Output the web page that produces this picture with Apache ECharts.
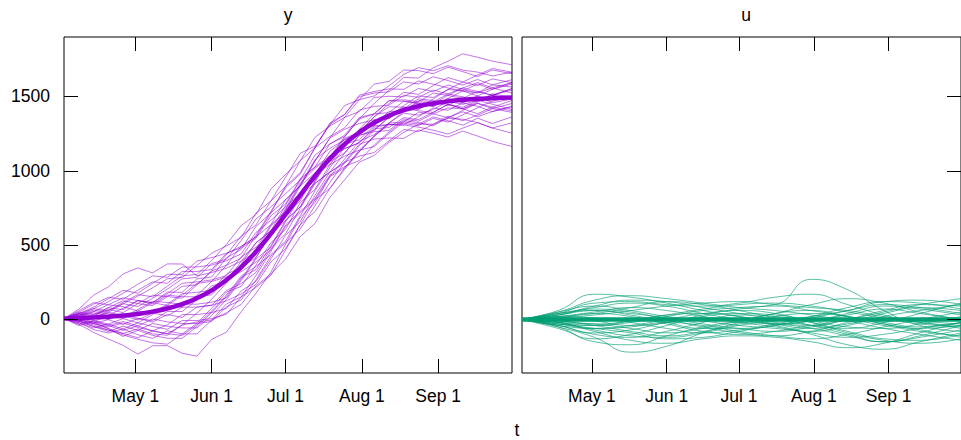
<!DOCTYPE html>
<html>
<head>
<meta charset="utf-8">
<script src="https://cdn.jsdelivr.net/npm/echarts@6/dist/echarts.min.js"></script>
<style>
html,body{margin:0;padding:0;background:#fff;}
#chart{width:961px;height:440px;}
</style>
</head>
<body>
<div id="chart"></div>
<script>
// ---------- data ----------
const yDates = ['2021-04-02','2021-04-08','2021-04-14','2021-04-20','2021-04-26','2021-05-02','2021-05-08','2021-05-14','2021-05-20','2021-05-26','2021-06-01','2021-06-07','2021-06-13','2021-06-19','2021-06-25','2021-07-01','2021-07-07','2021-07-13','2021-07-19','2021-07-25','2021-07-31','2021-08-06','2021-08-12','2021-08-18','2021-08-24','2021-08-30','2021-09-05','2021-09-11','2021-09-17','2021-09-23','2021-10-01'];
const uDates = ['2021-04-02','2021-04-17','2021-05-02','2021-05-17','2021-06-01','2021-06-16','2021-07-01','2021-07-16','2021-07-31','2021-08-15','2021-08-30','2021-09-14','2021-10-01'];
const xRange = ['2021-04-02','2021-10-01'];
const xTickDates = ['2021-05-01','2021-06-01','2021-07-01','2021-08-01','2021-09-01'];
const xTickLabels = ['May 1','Jun 1','Jul 1','Aug 1','Sep 1'];
const yTicks = [0,500,1000,1500];
const yRange = [-360,1900];
const panelTitles = ['y','u'];
const xTitle = 't';

const yMean = [6,9,13,19,26,37,53,74,103,143,196,265,352,456,576,706,838,966,1081,1179,1259,1323,1371,1408,1434,1453,1467,1477,1484,1488,1493];
const yPaths = [
[6,69,163,219,306,347,313,374,373,293,316,345,392,516,596,706,798,976,1131,1209,1259,1363,1431,1428,1414,1483,1547,1537,1524,1578,1563],
[6,-31,-87,-131,-174,-233,-177,-176,-227,-247,-134,-85,52,176,316,506,688,786,961,1079,1199,1243,1321,1388,1374,1413,1467,1447,1474,1508,1483],
[6,29,63,49,106,157,213,274,283,363,446,495,552,716,796,956,1118,1166,1311,1439,1479,1503,1571,1648,1694,1673,1707,1677,1664,1638,1663],
[6,-11,-47,-71,-94,-63,-97,-106,-37,-17,-4,45,102,226,306,406,558,646,821,939,1059,1103,1191,1258,1314,1313,1353,1347,1324,1288,1253],
[6,39,23,79,66,127,113,184,183,273,286,415,472,626,716,896,1068,1156,1321,1379,1509,1533,1551,1548,1604,1583,1557,1537,1504,1458,1483],
[6,-1,33,-1,36,7,-7,54,53,133,226,255,392,456,626,726,808,976,1041,1179,1209,1303,1401,1398,1474,1463,1437,1497,1464,1518,1493],
[6,-21,-67,-91,-64,-103,-127,-76,-97,-27,76,185,222,366,516,606,788,876,1041,1099,1139,1233,1311,1308,1364,1423,1407,1457,1434,1398,1433],
[6,49,103,149,136,197,253,244,323,323,336,445,482,546,696,776,948,1026,1181,1229,1349,1453,1541,1628,1624,1693,1737,1787,1764,1738,1713],
[6,19,-7,-41,-74,-43,-77,-36,33,33,46,75,192,256,406,566,658,836,991,1059,1179,1213,1221,1218,1274,1253,1227,1267,1234,1198,1163],
[6,-11,23,69,46,107,163,154,143,233,326,365,412,566,726,886,978,1156,1231,1289,1409,1433,1441,1508,1494,1543,1517,1557,1594,1558,1593],
[6,-41,-17,-61,-114,-73,-107,-126,-127,-47,46,155,282,336,496,666,758,936,1091,1149,1189,1293,1311,1318,1304,1353,1327,1377,1424,1468,1503],
[6,29,73,59,116,167,153,224,293,303,396,505,632,706,876,976,1068,1226,1301,1359,1399,1493,1501,1498,1554,1533,1577,1547,1524,1558,1523],
[6,-1,-27,-1,-34,7,-17,34,13,83,96,195,242,316,476,576,748,916,991,1119,1239,1273,1361,1428,1414,1463,1517,1497,1474,1508,1553],
[6,39,83,139,196,177,243,304,303,393,416,445,492,556,716,806,898,1066,1221,1359,1479,1583,1601,1678,1674,1653,1697,1667,1634,1678,1653],
[6,-21,-57,-31,6,-23,33,94,83,83,96,125,172,236,386,476,638,806,961,1019,1129,1233,1321,1328,1394,1383,1423,1417,1384,1428,1403],
[6,19,53,99,86,57,113,174,243,253,266,295,422,486,566,736,908,1076,1151,1209,1249,1343,1351,1418,1404,1393,1447,1427,1474,1448,1413],
[6,-11,-37,-71,-104,-133,-157,-166,-97,-97,-4,105,152,296,456,626,718,806,881,1009,1129,1233,1321,1398,1464,1453,1507,1487,1534,1508,1553],
[6,49,33,79,126,107,93,154,223,233,326,435,562,636,796,896,988,1156,1311,1379,1499,1523,1531,1598,1584,1633,1607,1577,1614,1578,1613],
[6,-1,-17,-41,-14,-43,3,-16,-27,-27,-14,85,132,266,426,516,608,766,921,1059,1099,1123,1201,1278,1264,1313,1367,1337,1374,1418,1393],
[6,29,3,49,26,-3,43,104,173,183,196,305,352,416,576,746,918,1016,1091,1229,1349,1383,1471,1478,1464,1523,1507,1557,1534,1508,1543],
[6,39,73,119,176,237,293,284,353,353,366,395,442,586,666,756,848,936,1091,1149,1189,1283,1291,1358,1344,1393,1447,1417,1454,1418,1453],
[6,-31,-7,-31,-64,-23,-47,-66,-7,-7,6,35,152,216,296,466,638,726,881,1019,1139,1163,1251,1328,1314,1363,1337,1307,1354,1318,1363],
[6,19,43,29,76,127,113,94,163,243,256,365,492,556,636,726,898,1066,1221,1279,1319,1343,1351,1418,1484,1473,1447,1417,1464,1508,1483],
[6,-11,-47,-81,-44,-73,-27,-46,-57,-57,26,135,262,406,486,656,828,916,991,1049,1169,1273,1361,1438,1504,1493,1547,1597,1574,1618,1593],
[6,9,-17,29,6,57,43,24,83,163,256,285,332,476,636,806,898,986,1061,1119,1239,1263,1271,1348,1334,1383,1357,1397,1364,1398,1433],
[6,59,113,99,146,127,103,164,153,153,166,275,322,386,466,636,728,816,971,1029,1069,1173,1261,1338,1324,1303,1357,1407,1454,1428,1473],
[6,-11,-27,-61,-94,-123,-77,-96,-37,43,136,245,372,516,596,766,938,1106,1181,1239,1359,1383,1391,1468,1454,1433,1487,1537,1584,1548,1583],
[6,29,53,39,16,67,123,114,103,103,116,145,272,416,576,666,758,926,1081,1219,1259,1363,1451,1528,1514,1573,1627,1597,1644,1688,1663],
[6,-1,-27,-51,-24,-53,-77,-96,-107,-37,56,165,292,356,436,526,698,866,1021,1159,1279,1303,1311,1308,1294,1273,1247,1287,1324,1288,1323],
[6,39,9,59,106,87,143,204,273,283,376,405,532,676,756,846,938,1026,1101,1159,1279,1383,1471,1468,1454,1433,1487,1457,1504,1548,1593]
];

const uMean = [0,0,0,0,0,0,0,0,0,0,0,0,0];
const uPaths = [
[0,60,170,150,110,60,20,-30,-60,-20,40,80,60],
[0,-50,-120,-220,-180,-90,-20,40,60,20,-30,-60,-40],
[0,30,60,40,10,-30,-60,-80,-50,0,60,100,90],
[0,-30,-60,-90,-130,-120,-80,-40,-10,30,70,40,0],
[0,40,110,120,100,90,110,150,170,100,30,-20,-40],
[0,-20,-40,-20,20,60,80,100,270,200,60,-40,-80],
[0,20,40,80,120,100,60,10,-40,-100,-150,-110,-40],
[0,-40,-100,-120,-80,-20,30,20,-20,-80,-130,-140,-100],
[0,50,90,60,20,-10,-40,-60,-80,-40,20,60,100],
[0,-20,-80,-140,-160,-130,-110,-120,-150,-190,-160,-90,-20],
[0,10,-10,-40,-20,30,70,90,60,20,-20,-50,-20],
[0,-60,-130,-100,-40,20,40,30,-10,-50,-60,-30,20],
[0,30,90,130,120,80,40,0,-40,-60,-20,40,110],
[0,-10,-40,-80,-110,-80,-30,20,40,20,-30,-70,-120],
[0,20,10,-20,-60,-90,-70,-40,10,60,120,130,100],
[0,-30,-60,-40,0,40,60,40,-20,-90,-140,-160,-130],
[0,40,80,110,90,40,0,-30,-10,40,90,70,30],
[0,-40,-60,-50,-20,-40,-80,-110,-130,-100,-50,0,50],
[0,10,30,60,90,110,120,100,80,60,20,-10,-30],
[0,-20,-70,-110,-120,-90,-40,-10,20,60,100,80,40],
[0,30,70,50,0,-50,-90,-110,-80,-30,0,-20,-60],
[0,-10,-30,-10,30,70,100,110,90,50,10,-30,-50],
[0,50,130,160,140,110,80,60,30,-10,-60,-100,-140],
[0,-50,-150,-170,-110,-50,-20,-30,-60,-110,-150,-120,-70],
[0,20,50,80,60,20,-20,-50,-90,-120,-100,-60,-20],
[0,-30,-40,-10,30,40,20,-20,-40,0,50,100,140],
[0,40,60,30,-20,-60,-60,-30,20,80,120,110,70],
[0,-20,-30,-60,-90,-60,-10,40,100,140,110,50,0],
[0,10,40,20,-30,-80,-100,-80,-40,-10,-40,-80,-110],
[0,-40,-90,-70,-20,10,0,-40,-100,-170,-200,-150,-90]
];

// ---------- helpers ----------
function ts(s){ const p = s.split('-').map(Number); return Date.UTC(p[0], p[1]-1, p[2]); }
const FONT = 'Liberation Sans, Arial, Helvetica, sans-serif';
const FS = 17.5;
const tickTs = xTickDates.map(ts);
const xMin = ts(xRange[0]), xMax = ts(xRange[1]);

function pairs(dates, vals){ return vals.map((v,i)=>[ts(dates[i]), v]); }

function xAxisDef(grid, pos, labels){
  return {
    type:'value', gridIndex:grid, position:pos, min:xMin, max:xMax, z:5, scale:true,
    axisLine:{show:false, onZero:false},
    axisTick:{show:true, inside:true, length:14, customValues:tickTs, lineStyle:{color:'#000', width:1}},
    axisLabel:{show:labels, customValues:tickTs, margin:14, color:'#000', fontSize:FS, fontFamily:FONT,
      formatter:function(v){ const i = tickTs.indexOf(v); return i>=0 ? xTickLabels[i] : ''; }},
    splitLine:{show:false}, minorTick:{show:false}
  };
}
function yAxisDef(grid, pos, labels){
  return {
    type:'value', gridIndex:grid, position:pos, min:yRange[0], max:yRange[1], z:5,
    axisLine:{show:false, onZero:false},
    axisTick:{show:true, inside:true, length:14, customValues:yTicks, lineStyle:{color:'#000', width:1}},
    axisLabel:{show:labels, customValues:yTicks, margin:14, color:'#000', fontSize:FS, fontFamily:FONT,
      formatter:function(v){ return String(v); }},
    splitLine:{show:false}
  };
}

const series = [];
yPaths.forEach(p => series.push({type:'line', xAxisIndex:0, yAxisIndex:0, data:pairs(yDates,p), symbol:'none', silent:true,
  lineStyle:{color:'#9400d3', width:1, opacity:0.55}, z:2}));
series.push({type:'line', xAxisIndex:0, yAxisIndex:0, data:pairs(yDates,yMean), symbol:'none', smooth:true, silent:true,
  lineStyle:{color:'#9400d3', width:4.5}, z:3});
uPaths.forEach(p => series.push({type:'line', xAxisIndex:2, yAxisIndex:1, data:pairs(uDates,p), symbol:'none', smooth:0.5, silent:true,
  lineStyle:{color:'#009e73', width:1, opacity:0.65}, z:2}));
series.push({type:'line', xAxisIndex:2, yAxisIndex:1, data:pairs(uDates,uMean), symbol:'none', silent:true,
  lineStyle:{color:'#009e73', width:4.5}, z:3});

const chart = echarts.init(document.getElementById('chart'), null, {renderer:'svg'});
chart.setOption({
  animation:false,
  backgroundColor:'#fff',
  grid:[
    {left:64, top:37, width:448, height:336, show:true, borderColor:'#000', borderWidth:1, backgroundColor:'transparent'},
    {left:522, top:37, width:448, height:336, show:true, borderColor:'#000', borderWidth:1, backgroundColor:'transparent'}
  ],
  xAxis:[ xAxisDef(0,'bottom',true), xAxisDef(0,'top',false), xAxisDef(1,'bottom',true), xAxisDef(1,'top',false) ],
  yAxis:[ yAxisDef(0,'left',true), yAxisDef(1,'right',false) ],
  graphic:[
    {type:'text', x:288, y:15, style:{text:panelTitles[0], fill:'#000', font:FS+'px '+FONT, align:'center', verticalAlign:'middle'}},
    {type:'text', x:746, y:15, style:{text:panelTitles[1], fill:'#000', font:FS+'px '+FONT, align:'center', verticalAlign:'middle'}},
    {type:'text', x:517, y:430, style:{text:xTitle, fill:'#000', font:FS+'px '+FONT, align:'center', verticalAlign:'middle'}}
  ],
  series:series
});
</script>
</body>
</html>
